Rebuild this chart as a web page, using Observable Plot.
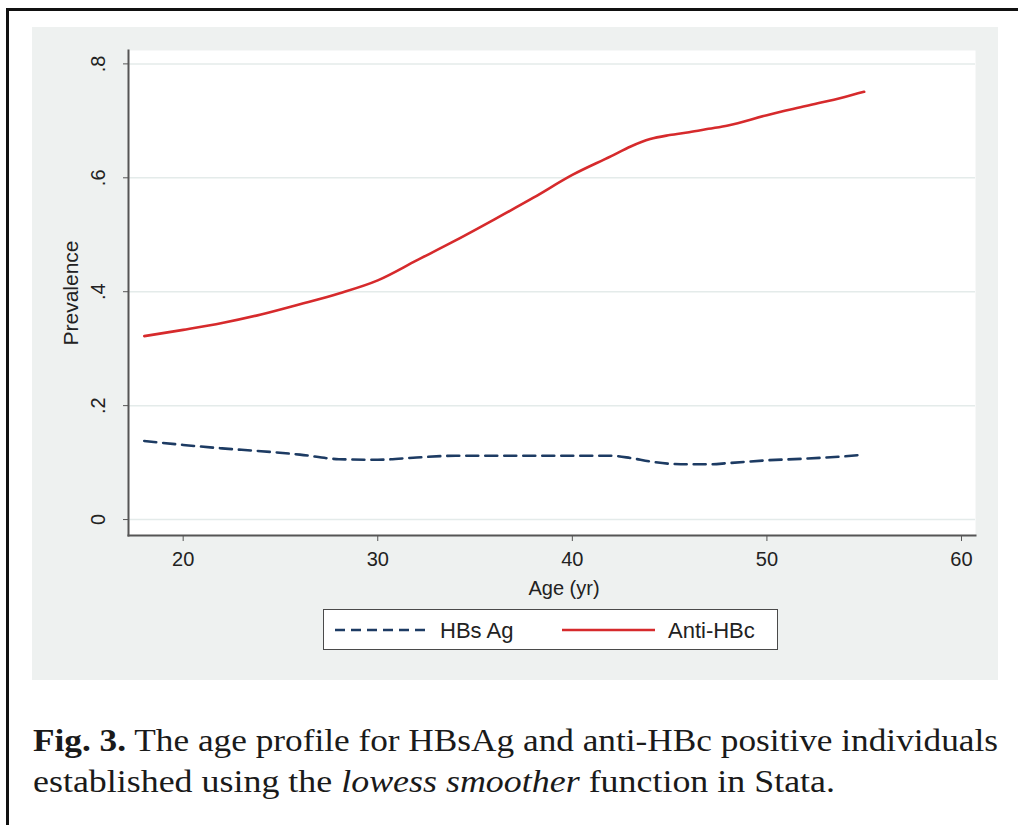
<!DOCTYPE html>
<html>
<head>
<meta charset="utf-8">
<script src="https://cdn.jsdelivr.net/npm/d3@7"></script>
<script src="https://cdn.jsdelivr.net/npm/@observablehq/plot@0.6"></script>
<style>
  html, body { margin: 0; padding: 0; background: #ffffff; }
  body { width: 1018px; height: 825px; position: relative; overflow: hidden; font-family: "Liberation Sans", Arial, sans-serif; }
  #border { position: absolute; left: 6px; top: 8px; width: 1100px; height: 900px; border-left: 3px solid #111; border-top: 3px solid #111; }
  #panel { position: absolute; left: 32px; top: 27px; width: 966px; height: 653px; background: #eef1f0; }
  #panel svg { display: block; }
  #legend { position: absolute; left: 323px; top: 609px; width: 455px; height: 41px; box-sizing: border-box; border: 1.5px solid #4a4a4a; background: #ffffff; }
  #caption { position: absolute; left: 0; top: 700px; }
</style>
</head>
<body>
<div id="border"></div>
<div id="panel"></div>
<div id="legend"></div>
<svg id="caption" width="1018" height="125"></svg>
<script>
// ---- data ----
const ages    = [18, 20, 22, 24, 26, 28, 30, 32, 34, 36, 38, 40, 42, 43, 44, 45, 46, 47, 48, 50, 52, 54, 55];
const hbsAg   = [0.138, 0.131, 0.125, 0.120, 0.114, 0.106, 0.105, 0.109, 0.112, 0.112, 0.112, 0.112, 0.112, 0.108, 0.102, 0.098, 0.097, 0.097, 0.099, 0.104, 0.107, 0.111, 0.114];
const antiHBc = [0.322, 0.333, 0.345, 0.360, 0.378, 0.397, 0.420, 0.455, 0.490, 0.527, 0.565, 0.605, 0.638, 0.655, 0.668, 0.675, 0.680, 0.686, 0.692, 0.710, 0.726, 0.742, 0.751];
const seriesNames = ["HBs Ag", "Anti-HBc"];
const xTicks = [20, 30, 40, 50, 60];
const yTicks = [0, 0.2, 0.4, 0.6, 0.8];
const yTickLabels = ["0", ".2", ".4", ".6", ".8"];
const xTitle = "Age (yr)";
const yTitle = "Prevalence";

const colors = {"HBs Ag": "#1d3b63", "Anti-HBc": "#d62a2c"};
const dashes = {"HBs Ag": "12,7", "Anti-HBc": null};

const rows = [];
ages.forEach((a, i) => {
  rows.push({age: a, value: hbsAg[i], series: seriesNames[0]});
  rows.push({age: a, value: antiHBc[i], series: seriesNames[1]});
});

const chart = Plot.plot({
  width: 966,
  height: 653,
  marginLeft: 96,
  marginRight: 23,
  marginTop: 23,
  marginBottom: 145,
  style: {background: "transparent", fontFamily: "'Liberation Sans', Arial, sans-serif", color: "#222"},
  x: {domain: [17.19, 60.72]},
  y: {domain: [-0.028, 0.8235]},
  marks: [
    Plot.frame({fill: "#ffffff", stroke: null}),
    Plot.gridY(yTicks, {stroke: "#e4ebea", strokeOpacity: 1, strokeWidth: 1.5}),
    Plot.frame({anchor: "left", stroke: "#555", strokeWidth: 2}),
    Plot.frame({anchor: "bottom", stroke: "#555", strokeWidth: 2}),
    Plot.axisX(xTicks, {tickSize: 6, tickPadding: 10, fontSize: 20, stroke: "#555", fill: "#222", tickFormat: d => String(d), label: null}),
    Plot.axisY(yTicks, {tickSize: 5, tickFormat: () => "", stroke: "#555", label: null}),
    Plot.text(yTicks, {y: d => d, text: (d, i) => yTickLabels[i], frameAnchor: "left", dx: -30, rotate: -90, textAnchor: "middle", lineAnchor: "middle", fontSize: 20, fill: "#222"}),
    Plot.text([yTitle], {frameAnchor: "left", dx: -57, rotate: -90, textAnchor: "middle", lineAnchor: "middle", fontSize: 21, fill: "#222", text: d => d}),
    Plot.text([xTitle], {frameAnchor: "bottom", dx: 12, dy: 53, textAnchor: "middle", lineAnchor: "middle", fontSize: 20, fill: "#222", text: d => d}),
    ...seriesNames.map(s => Plot.line(rows.filter(r => r.series === s), {
      x: "age", y: "value", stroke: colors[s], strokeWidth: 2.6,
      strokeDasharray: dashes[s], curve: "monotone-x"
    }))
  ]
});
document.getElementById("panel").appendChild(chart);

// ---- legend ----
const leg = document.getElementById("legend");
const NS = "http://www.w3.org/2000/svg";
const lsvg = document.createElementNS(NS, "svg");
lsvg.setAttribute("width", 452); lsvg.setAttribute("height", 38);
lsvg.style.fontFamily = "'Liberation Sans', Arial, sans-serif";
const legendItems = [
  {name: seriesNames[0], x1: 11, x2: 105, tx: 116},
  {name: seriesNames[1], x1: 238, x2: 331, tx: 344}
];
legendItems.forEach(it => {
  const ln = document.createElementNS(NS, "line");
  ln.setAttribute("x1", it.x1); ln.setAttribute("x2", it.x2);
  ln.setAttribute("y1", 20); ln.setAttribute("y2", 20);
  ln.setAttribute("stroke", colors[it.name]); ln.setAttribute("stroke-width", 2.6);
  if (dashes[it.name]) ln.setAttribute("stroke-dasharray", "10,6");
  lsvg.appendChild(ln);
  const t = document.createElementNS(NS, "text");
  t.setAttribute("x", it.tx); t.setAttribute("y", 27.5);
  t.setAttribute("font-size", 22); t.setAttribute("fill", "#222");
  t.textContent = it.name;
  lsvg.appendChild(t);
});
leg.appendChild(lsvg);

// ---- caption ----
const cap = document.getElementById("caption");
cap.innerHTML =
  '<text x="33" y="51" font-family="Liberation Serif, Times New Roman, serif" font-size="31" fill="#1a1a1a" textLength="965" lengthAdjust="spacingAndGlyphs">' +
  '<tspan font-weight="bold">Fig. 3.</tspan> The age profile for HBsAg and anti-HBc positive individuals</text>' +
  '<text x="33" y="92" font-family="Liberation Serif, Times New Roman, serif" font-size="31" fill="#1a1a1a" textLength="802" lengthAdjust="spacingAndGlyphs">' +
  'established using the <tspan font-style="italic">lowess smoother</tspan> function in Stata.</text>';
</script>
</body>
</html>
